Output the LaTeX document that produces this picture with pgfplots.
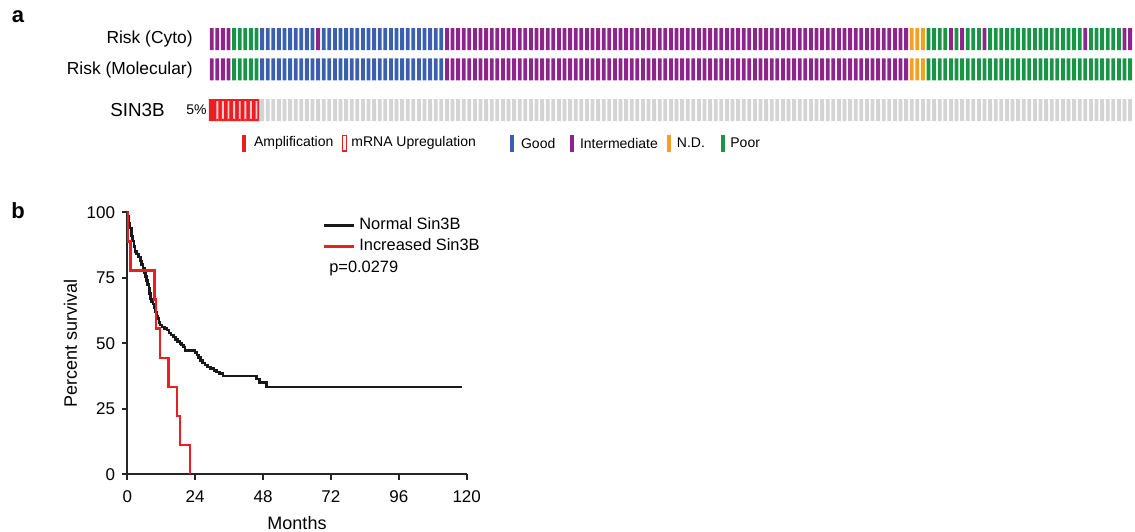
\documentclass[border=0pt]{standalone}
\usepackage{fontspec}
\setmainfont{Liberation Sans}
\usepackage{pgfplots}
\usepackage{pgfplotstable}
\pgfplotsset{compat=1.18}
\newcommand\fs[1]{\fontsize{#1}{#1}\selectfont}
\definecolor{cpurple}{RGB}{142,36,142}
\definecolor{cblue}{RGB}{60,96,176}
\definecolor{cgreen}{RGB}{26,148,70}
\definecolor{corange}{RGB}{247,160,32}
\definecolor{cgrey}{RGB}{212,212,212}
\definecolor{cred}{RGB}{235,30,36}
\definecolor{cpink}{RGB}{246,205,205}
\pgfplotsset{
  onco/.style={scale only axis, width=462pt, height=11pt, xmin=-0.5, xmax=164.5,
      ymin=0, ymax=1, axis lines=none, ticks=none, anchor=north west, clip=false,
      unbounded coords=discard},
  onbar/.style={ybar, bar width=0.68, bar shift=0pt, draw=none},
}
% sample index, cytogenetic risk, molecular risk, SIN3B (0 none, 1 amplification, 2 mRNA up)
\pgfplotstableread[row sep=\\]{
i c m s\\
0 2 2 1\\ 1 2 2 2\\ 2 2 2 2\\ 3 2 2 2\\ 4 4 4 2\\ 5 4 4 2\\ 6 4 4 2\\ 7 4 4 2\\ 8 4 4 2\\ 9 1 1 0\\
10 1 1 0\\ 11 1 1 0\\ 12 1 1 0\\ 13 1 1 0\\ 14 1 1 0\\ 15 1 1 0\\ 16 1 1 0\\ 17 1 1 0\\ 18 1 1 0\\ 19 2 1 0\\
20 1 1 0\\ 21 1 1 0\\ 22 1 1 0\\ 23 1 1 0\\ 24 1 1 0\\ 25 1 1 0\\ 26 1 1 0\\ 27 1 1 0\\ 28 1 1 0\\ 29 1 1 0\\
30 1 1 0\\ 31 1 1 0\\ 32 1 1 0\\ 33 1 1 0\\ 34 1 1 0\\ 35 1 1 0\\ 36 1 1 0\\ 37 1 1 0\\ 38 1 1 0\\ 39 1 1 0\\
40 1 1 0\\ 41 1 1 0\\ 42 2 2 0\\ 43 2 2 0\\ 44 2 2 0\\ 45 2 2 0\\ 46 2 2 0\\ 47 2 2 0\\ 48 2 2 0\\ 49 2 2 0\\
50 2 2 0\\ 51 2 2 0\\ 52 2 2 0\\ 53 2 2 0\\ 54 2 2 0\\ 55 2 2 0\\ 56 2 2 0\\ 57 2 2 0\\ 58 2 2 0\\ 59 2 2 0\\
60 2 2 0\\ 61 2 2 0\\ 62 2 2 0\\ 63 2 2 0\\ 64 2 2 0\\ 65 2 2 0\\ 66 2 2 0\\ 67 2 2 0\\ 68 2 2 0\\ 69 2 2 0\\
70 2 2 0\\ 71 2 2 0\\ 72 2 2 0\\ 73 2 2 0\\ 74 2 2 0\\ 75 2 2 0\\ 76 2 2 0\\ 77 2 2 0\\ 78 2 2 0\\ 79 2 2 0\\
80 2 2 0\\ 81 2 2 0\\ 82 2 2 0\\ 83 2 2 0\\ 84 2 2 0\\ 85 2 2 0\\ 86 2 2 0\\ 87 2 2 0\\ 88 2 2 0\\ 89 2 2 0\\
90 2 2 0\\ 91 2 2 0\\ 92 2 2 0\\ 93 2 2 0\\ 94 2 2 0\\ 95 2 2 0\\ 96 2 2 0\\ 97 2 2 0\\ 98 2 2 0\\ 99 2 2 0\\
100 2 2 0\\ 101 2 2 0\\ 102 2 2 0\\ 103 2 2 0\\ 104 2 2 0\\ 105 2 2 0\\ 106 2 2 0\\ 107 2 2 0\\ 108 2 2 0\\ 109 2 2 0\\
110 2 2 0\\ 111 2 2 0\\ 112 2 2 0\\ 113 2 2 0\\ 114 2 2 0\\ 115 2 2 0\\ 116 2 2 0\\ 117 2 2 0\\ 118 2 2 0\\ 119 2 2 0\\
120 2 2 0\\ 121 2 2 0\\ 122 2 2 0\\ 123 2 2 0\\ 124 2 2 0\\ 125 3 3 0\\ 126 3 3 0\\ 127 3 3 0\\ 128 4 4 0\\ 129 4 4 0\\
130 4 4 0\\ 131 4 4 0\\ 132 2 4 0\\ 133 4 4 0\\ 134 2 4 0\\ 135 4 4 0\\ 136 4 4 0\\ 137 4 4 0\\ 138 2 4 0\\ 139 4 4 0\\
140 4 4 0\\ 141 4 4 0\\ 142 4 4 0\\ 143 4 4 0\\ 144 4 4 0\\ 145 4 4 0\\ 146 4 4 0\\ 147 4 4 0\\ 148 4 4 0\\ 149 4 4 0\\
150 4 4 0\\ 151 4 4 0\\ 152 4 4 0\\ 153 4 4 0\\ 154 4 4 0\\ 155 4 4 0\\ 156 2 4 0\\ 157 4 4 0\\ 158 4 4 0\\ 159 4 4 0\\
160 4 4 0\\ 161 4 4 0\\ 162 4 4 0\\ 163 2 4 0\\ 164 2 4 0\\
}\samples
\pgfplotstableread[row sep=\\]{
t p\\
0 100\\ 0.3 98.5\\ 0.6 96\\ 1.0 94\\ 1.4 91\\ 1.8 89\\ 2.3 87\\ 2.7 85\\ 3.3 84\\ 4.0 83\\
4.6 81.5\\ 5.1 80\\ 5.6 78.5\\ 6.0 77\\ 6.4 75.5\\ 6.8 74\\ 7.2 72.5\\ 7.6 71\\ 7.9 69\\ 8.2 67\\
8.6 66\\ 9.1 65\\ 9.6 63.5\\ 10.0 62\\ 10.4 60.5\\ 10.8 59.5\\ 11.2 58\\ 11.6 57\\ 12.2 56.3\\ 13.2 55.7\\
14.0 55\\ 14.8 54\\ 15.5 53.2\\ 16.3 52.5\\ 17.0 51.5\\ 17.8 50.7\\ 18.6 50\\ 19.2 49.3\\ 19.8 48.5\\ 20.4 47.2\\
23.9 46.5\\ 24.6 45.5\\ 25.2 44.5\\ 25.8 43.5\\ 26.6 42.5\\ 27.4 41.7\\ 28.4 41\\ 29.4 40.3\\ 30.6 39.6\\ 31.6 39\\
32.6 38.4\\ 33.8 37.6\\ 45.7 36.3\\ 46.8 35.0\\ 49.3 33.4\\ 118.2 33.4\\
}\normal
\pgfplotstableread[row sep=\\]{
t p\\
0 100\\ 0.3 88.9\\ 1.2 77.8\\ 9.6 66.7\\ 10.2 55.6\\ 11.6 44.4\\ 14.5 33.3\\ 17.5 22.2\\ 18.7 11.1\\ 22.2 0\\
}\increased
\begin{document}
\begin{tikzpicture}
\path[use as bounding box] (0,0) rectangle (567.5pt,-265.5pt);
% panel letters
\node[font=\fs{11}\bfseries, inner sep=0] at (9pt,-8.5pt) {a};
\node[font=\fs{11}\bfseries, inner sep=0] at (9pt,-105.5pt) {b};
% row labels
\node[anchor=east, inner sep=0, font=\fs{8.7}] at (96.5pt,-19.5pt) {Risk (Cyto)};
\node[anchor=east, inner sep=0, font=\fs{8.7}] at (96.5pt,-35pt) {Risk (Molecular)};
\node[anchor=east, inner sep=0, font=\fs{9.4}] at (82.5pt,-55pt) {SIN3B};
\node[anchor=east, inner sep=0, font=\fs{7}] at (103.5pt,-55pt) {5\%};
% oncoprint rows
\begin{axis}[onco, at={(104.45pt,-14pt)}]
\addplot[onbar, fill=cblue] table[x=i, y expr={\thisrow{c}==1 ? 1 : nan}] {\samples};
\addplot[onbar, fill=cpurple] table[x=i, y expr={\thisrow{c}==2 ? 1 : nan}] {\samples};
\addplot[onbar, fill=corange] table[x=i, y expr={\thisrow{c}==3 ? 1 : nan}] {\samples};
\addplot[onbar, fill=cgreen] table[x=i, y expr={\thisrow{c}==4 ? 1 : nan}] {\samples};
\end{axis}
\begin{axis}[onco, at={(104.45pt,-29.15pt)}]
\addplot[onbar, fill=cblue] table[x=i, y expr={\thisrow{m}==1 ? 1 : nan}] {\samples};
\addplot[onbar, fill=cpurple] table[x=i, y expr={\thisrow{m}==2 ? 1 : nan}] {\samples};
\addplot[onbar, fill=corange] table[x=i, y expr={\thisrow{m}==3 ? 1 : nan}] {\samples};
\addplot[onbar, fill=cgreen] table[x=i, y expr={\thisrow{m}==4 ? 1 : nan}] {\samples};
\end{axis}
\begin{axis}[onco, at={(104.45pt,-49.5pt)}]
\addplot[onbar, fill=cgrey] table[x=i, y expr={\thisrow{s}==0 ? 1 : nan}] {\samples};
\addplot[ybar, bar width=1, bar shift=0pt, draw=none, fill=cred] table[x=i, y expr={\thisrow{s}>0 ? 1 : nan}] {\samples};
\addplot[ybar, bar width=0.34, bar shift=0pt, draw=none, fill=cpink] table[x=i, y expr={\thisrow{s}==2 ? 0.9 : nan}] {\samples};
\addplot[ybar, bar width=0.36, bar shift=0pt, draw=none, fill=cred] table[x=i, y expr={\thisrow{s}==2 ? 0.1 : nan}] {\samples};
\end{axis}
% legend of panel a
\fill[cred] (121pt,-67.25pt) rectangle (123pt,-75.75pt);
\node[anchor=west, inner sep=0, font=\fs{7}] at (126.8pt,-71.5pt) {Amplification};
\draw[cred, line width=0.7pt] (171.1pt,-67.6pt) rectangle (173.35pt,-75.4pt);
\node[anchor=west, inner sep=0, font=\fs{7}] at (175.5pt,-71.5pt) {mRNA Upregulation};
\fill[cblue] (255pt,-67.25pt) rectangle (257pt,-75.75pt);
\node[anchor=west, inner sep=0, font=\fs{7}] at (260.35pt,-71.5pt) {Good};
\fill[cpurple] (285.2pt,-67.25pt) rectangle (287.2pt,-75.75pt);
\node[anchor=west, inner sep=0, font=\fs{7}] at (289.8pt,-71.5pt) {Intermediate};
\fill[corange] (333.5pt,-67.25pt) rectangle (335.5pt,-75.75pt);
\node[anchor=west, inner sep=0, font=\fs{7}] at (338.25pt,-71.5pt) {N.D.};
\fill[cgreen] (360.25pt,-67.25pt) rectangle (362.25pt,-75.75pt);
\node[anchor=west, inner sep=0, font=\fs{7}] at (365pt,-71.5pt) {Poor};
% panel b
\begin{axis}[scale only axis, width=169.7pt, height=131pt,
  at={(63.65pt,-237.15pt)}, anchor=south west,
  xmin=0, xmax=120, ymin=0, ymax=100,
  axis x line*=bottom, axis y line*=left,
  axis line style={line width=1pt, black!85},
  every tick/.style={line width=1pt, black!85},
  tick align=outside, major tick length=2.6pt,
  xtick={0,24,48,72,96,120}, ytick={0,25,50,75,100},
  tick label style={font=\fs{8.5}},
  xticklabel style={yshift=-2pt},
  /pgf/number format/assume math mode=true,
  xlabel={Months}, ylabel={Percent survival},
  label style={font=\fs{9}},
  xlabel style={yshift=0pt},
  ylabel style={yshift=-2pt},
  clip=false,
  legend style={at={(axis cs:69,99.5)}, anchor=north west, draw=none, fill=none,
    inner sep=0pt, font=\fs{8.2}, row sep=-1pt},
  legend cell align=left,
  legend image code/.code={\draw[#1] (0pt,0pt) -- (15pt,0pt);},
]
\addplot[const plot, black!90, line width=1.25pt] table[x=t, y=p] {\normal};
\addlegendentry{Normal Sin3B}
\addplot[const plot, cred, line width=1.25pt] table[x=t, y=p] {\increased};
\addlegendentry{Increased Sin3B}
\node[anchor=west, inner sep=0, font=\fs{8.2}] at (axis cs:71.3,78.5) {p=0.0279};
\end{axis}
\end{tikzpicture}
\end{document}
